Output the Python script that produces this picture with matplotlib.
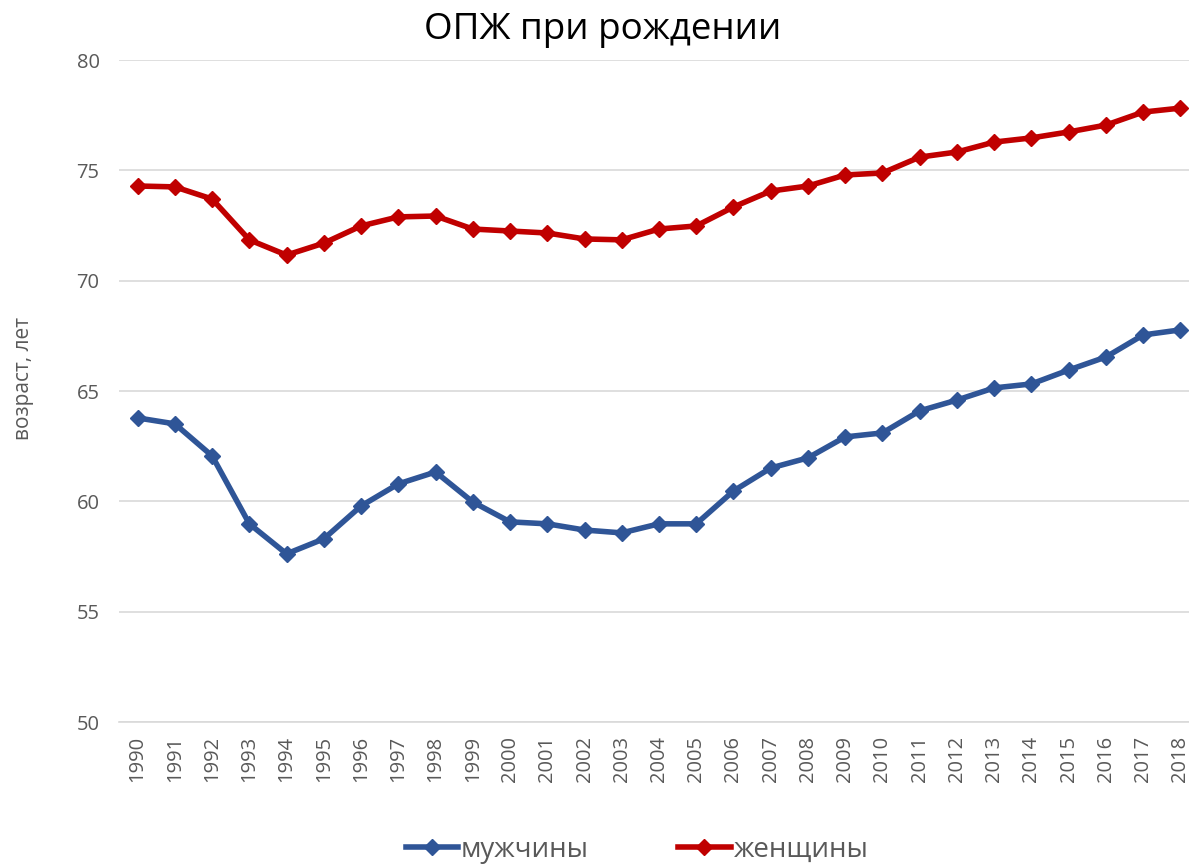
import matplotlib.pyplot as plt

plt.rcParams['font.family'] = ['Open Sans', 'DejaVu Sans']

years = list(range(1990, 2019))
men = [63.78, 63.51, 62.06, 58.98, 57.62, 58.30, 59.79, 60.79, 61.33, 59.97,
       59.07, 58.98, 58.70, 58.57, 58.98, 58.98, 60.47, 61.51, 61.97, 62.92,
       63.10, 64.10, 64.59, 65.14, 65.32, 65.95, 66.54, 67.54, 67.77]
women = [74.29, 74.25, 73.70, 71.85, 71.16, 71.70, 72.48, 72.89, 72.93, 72.34,
         72.25, 72.16, 71.89, 71.85, 72.34, 72.48, 73.34, 74.06, 74.29, 74.79,
         74.88, 75.60, 75.83, 76.28, 76.47, 76.74, 77.05, 77.64, 77.82]
y_ticks = [50, 55, 60, 65, 70, 75, 80]

W, H = 1189, 867
fig = plt.figure(figsize=(W / 100, H / 100), dpi=100)
# axes box in pixels: left 119, right ~1199 (runs past the edge), top 60, bottom 722
ax = fig.add_axes([119 / W, 1 - 722 / H, (1199 - 119) / W, (722 - 60) / H])

x = list(range(len(years)))
ax.plot(x, men, color='#2F5597', lw=4, marker='D', ms=8, label='мужчины', zorder=3)
ax.plot(x, women, color='#C00000', lw=4, marker='D', ms=8, label='женщины', zorder=3)

ax.set_xlim(-0.5, len(years) - 0.5)
ax.set_ylim(50, 80)
ax.set_yticks(y_ticks)
ax.set_xticks(x)
ax.set_xticklabels([str(y) for y in years], rotation=90)
ax.tick_params(axis='both', length=0, labelsize=14.5, labelcolor='#595959')
ax.tick_params(axis='y', pad=14)
ax.tick_params(axis='x', pad=10)

ax.grid(axis='y', color='#D9D9D9', lw=1.2)
ax.set_axisbelow(True)
for s in ['left', 'right', 'top']:
    ax.spines[s].set_visible(False)
ax.spines['bottom'].set_color('#D9D9D9')
ax.spines['bottom'].set_linewidth(1.2)

fig.text(24 / W, 1 - 378 / H, 'возраст, лет', rotation=90, va='center', ha='center',
         fontsize=15, color='#595959')
fig.text(603 / W, 1 - 30 / H, 'ОПЖ при рождении', ha='center', va='center',
         fontsize=26.5, color='black')

fig.legend(loc='center', bbox_to_anchor=(637 / W, 1 - 850 / H), ncol=2, frameon=False,
           fontsize=20, labelcolor='#595959', handlelength=1.9, handletextpad=0.1,
           columnspacing=3.2)

fig.savefig('out.png', dpi=100)
